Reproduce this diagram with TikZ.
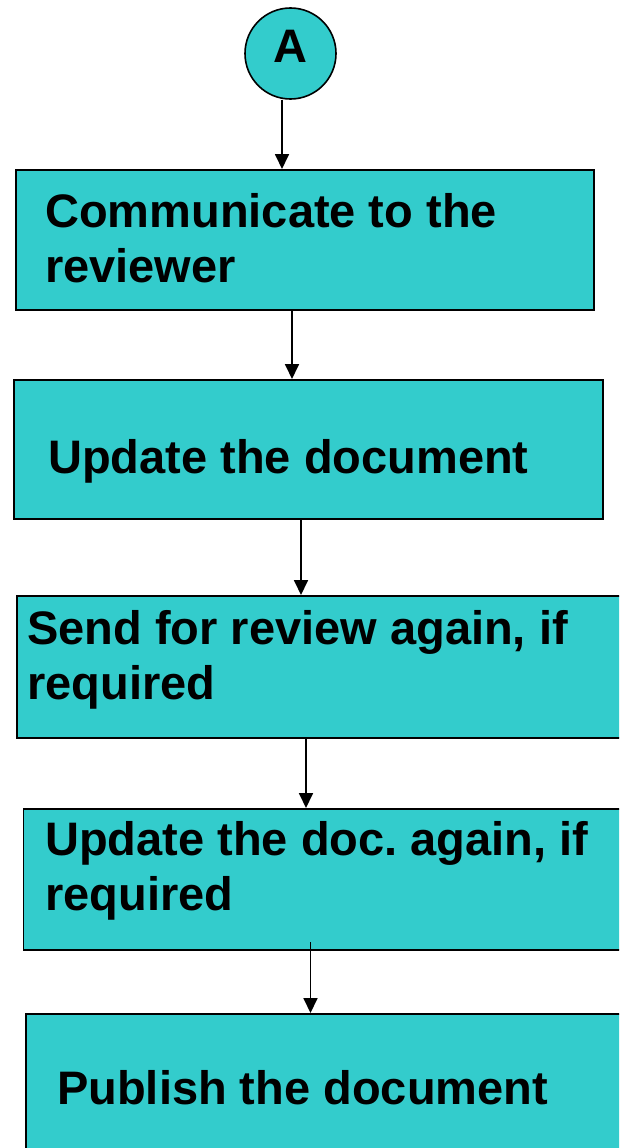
\documentclass[tikz,border=0pt]{standalone}
\usepackage{fontspec}
\setmainfont{Liberation Sans}
\usetikzlibrary{arrows.meta}
\definecolor{teal1}{RGB}{51,204,204}
\tikzset{
  box/.style={draw=black, line width=1.6pt, fill=teal1, rectangle, inner sep=0pt, anchor=north west},
  circ/.style={draw=black, line width=1.6pt, fill=teal1, circle, inner sep=0pt, minimum size=91pt},
  txt/.style={anchor=base west, inner sep=0pt, font=\fontsize{47}{55}\selectfont\bfseries\frenchspacing, align=left},
  arr/.style={draw=black, line width=1.8pt, -{Triangle[width=14pt,length=15pt]}}
}
\begin{document}
\begin{tikzpicture}[x=1pt,y=-1pt]
\useasboundingbox (0,0) rectangle (619,1148);
\clip (0,0) rectangle (619,1148);
\node[circ] (A) at (290.5,53.5) {};
\node[anchor=base, inner sep=0pt, font=\fontsize{47}{55}\selectfont\bfseries] (tA) at (290,63) {A};
\node[box, minimum width=578pt, minimum height=140pt] (b1) at (15,169) {};
\node[box, minimum width=589pt, minimum height=139pt] (b2) at (13,379) {};
\node[box, minimum width=620pt, minimum height=142pt] (b3) at (16,595) {};
\node[box, minimum width=620pt, minimum height=141pt] (b4) at (22.5,808) {};
\node[box, minimum width=620pt, minimum height=160pt] (b5) at (25,1013) {};
\node[txt] (t1a) at (45,227) {Communicate to the};
\node[txt] (t1b) at (45,282) {reviewer};
\node[txt] (t2) at (48,473) {Update the document};
\node[txt] (t3a) at (27,644) {Send for review again, if};
\node[txt] (t3b) at (27,699) {required};
\node[txt] (t4a) at (45,855) {Update the doc. again, if};
\node[txt] (t4b) at (45,910) {required};
\node[txt] (t5) at (57,1104) {Publish the document};
\coordinate (c0) at (282,0);
\coordinate (c1) at (292,0);
\coordinate (c2) at (301,0);
\coordinate (c3) at (306,0);
\coordinate (c4) at (310.5,942);
\draw[arr] (c0 |- A.south) -- (c0 |- b1.north);
\draw[arr] (c1 |- b1.south) -- (c1 |- b2.north);
\draw[arr] (c2 |- b2.south) -- (c2 |- b3.north);
\draw[arr] (c3 |- b3.south) -- (c3 |- b4.north);
\draw[arr] (c4) -- (c4 |- b5.north);
\end{tikzpicture}
\end{document}
